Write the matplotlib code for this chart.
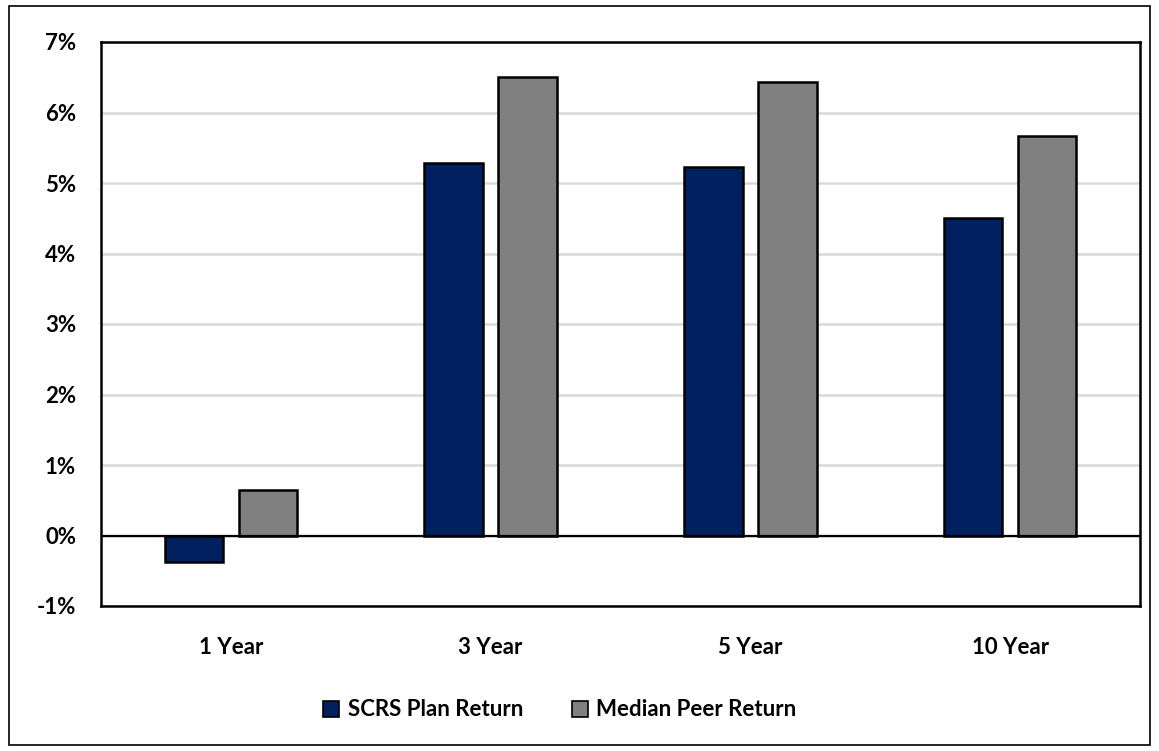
import matplotlib.pyplot as plt
import matplotlib.patches as mpatches
import numpy as np
from matplotlib.ticker import FuncFormatter

periods = ["1 Year", "3 Year", "5 Year", "10 Year"]
plan_return = [-0.38, 5.29, 5.22, 4.50]
peer_return = [0.65, 6.50, 6.43, 5.67]
series_names = ["SCRS Plan Return", "Median Peer Return"]

navy = "#002060"
grey = "#808080"

plt.rcParams['font.family'] = ['Lato', 'DejaVu Sans']
plt.rcParams['font.weight'] = 'bold'

fig = plt.figure(figsize=(11.59, 7.51), dpi=100)
ax = fig.add_axes([101 / 1159, 1 - 606 / 751, 1039 / 1159, 564 / 751])

x = np.arange(len(periods))
w = 0.225
gap = 0.06
ax.bar(x - (w + gap) / 2, plan_return, w, color=navy, edgecolor="black", linewidth=1.8,
       label=series_names[0], zorder=3)
ax.bar(x + (w + gap) / 2, peer_return, w, color=grey, edgecolor="black", linewidth=1.8,
       label=series_names[1], zorder=3)

ax.set_xlim(-0.5, len(periods) - 0.5)
ax.set_ylim(-1, 7)
ax.set_yticks(range(-1, 8))
ax.yaxis.set_major_formatter(FuncFormatter(lambda v, p: f"{v:.0f}%"))
ax.grid(axis="y", color="#d9d9d9", linewidth=1.8, zorder=0)
ax.axhline(0, color="black", linewidth=1.6, zorder=4)

ax.set_xticks(x)
ax.set_xticklabels(periods)
ax.tick_params(axis="both", length=0, labelsize=16)
ax.tick_params(axis="y", pad=18)
ax.tick_params(axis="x", pad=22)
for lbl in ax.get_xticklabels() + ax.get_yticklabels():
    lbl.set_fontweight("bold")
for s in ax.spines.values():
    s.set_linewidth(1.8)
    s.set_color("black")

handles = [mpatches.Patch(facecolor=navy, edgecolor="black", linewidth=1.2),
           mpatches.Patch(facecolor=grey, edgecolor="black", linewidth=1.2)]
fig.legend(handles, series_names, loc="center", bbox_to_anchor=(560 / 1159, 1 - 710 / 751),
           ncol=2, frameon=False, prop={'size': 16, 'weight': 'bold'},
           handlelength=0.7, handleheight=0.7, handletextpad=0.4, columnspacing=2.2)

# outer chart border
fig.patches.append(mpatches.Rectangle((9 / 1159, 1 - 745 / 751), 1141 / 1159, 739 / 751,
                                      transform=fig.transFigure, fill=False,
                                      edgecolor="black", linewidth=1.2))

fig.savefig("out.png", dpi=100)
